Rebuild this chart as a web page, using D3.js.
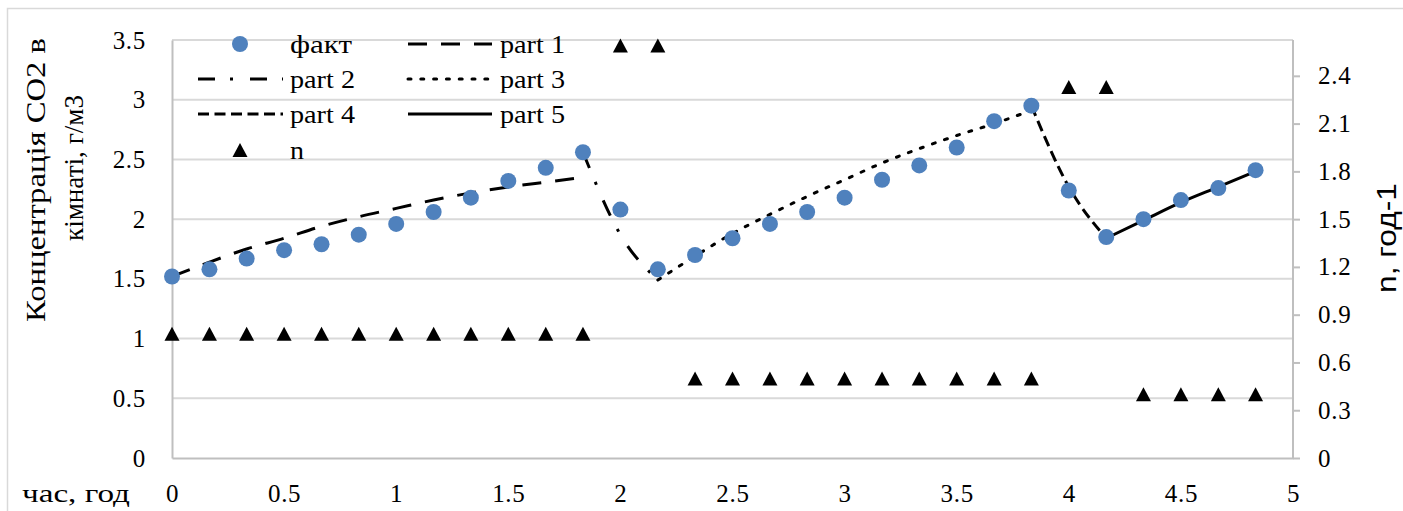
<!DOCTYPE html>
<html>
<head>
<meta charset="utf-8">
<script src="https://cdn.jsdelivr.net/npm/d3@7"></script>
</head>
<body style="margin:0">
<svg id="chart" width="1403" height="511"></svg>
<script>
// Measurement times, hours (10-minute steps)
const hours = [0, 0.167, 0.333, 0.5, 0.667, 0.833, 1, 1.167, 1.333, 1.5, 1.667, 1.833,
               2, 2.167, 2.333, 2.5, 2.667, 2.833, 3, 3.167, 3.333, 3.5, 3.667, 3.833,
               4, 4.167, 4.333, 4.5, 4.667, 4.833];
// Measured CO2 concentration, g/m3
const fact = [1.52, 1.58, 1.67, 1.74, 1.79, 1.87, 1.96, 2.06, 2.18, 2.32, 2.43, 2.56,
              2.08, 1.58, 1.70, 1.84, 1.96, 2.06, 2.18, 2.33, 2.45, 2.60, 2.82, 2.95,
              2.24, 1.85, 2.00, 2.16, 2.26, 2.41];
// Air exchange rate n, 1/h
const nRate = [0.78, 0.78, 0.78, 0.78, 0.78, 0.78, 0.78, 0.78, 0.78, 0.78, 0.78, 0.78,
               2.59, 2.59, 0.5, 0.5, 0.5, 0.5, 0.5, 0.5, 0.5, 0.5, 0.5, 0.5,
               2.33, 2.33, 0.4, 0.4, 0.4, 0.4];

// Model curves, one per ventilation regime
const part1Hours = [0, 0.167, 0.333, 0.5, 0.667, 0.833, 1, 1.167, 1.333, 1.5, 1.667, 1.833];
const part1Vals  = [1.52, 1.64, 1.75, 1.84, 1.94, 2.02, 2.09, 2.16, 2.22, 2.27, 2.31, 2.35];
const part2Hours = [1.833, 2, 2.167];
const part2Vals  = [2.56, 1.87, 1.49];
const part3Hours = [2.167, 2.333, 2.5, 2.667, 2.833, 3, 3.167, 3.333, 3.5, 3.667, 3.833];
const part3Vals  = [1.49, 1.69, 1.88, 2.04, 2.19, 2.33, 2.47, 2.59, 2.70, 2.80, 2.91];
const part4Hours = [3.833, 4, 4.167];
const part4Vals  = [2.95, 2.27, 1.84];
const part5Hours = [4.167, 4.333, 4.5, 4.667, 4.833];
const part5Vals  = [1.84, 1.99, 2.14, 2.27, 2.40];

const xTicks = [0, 0.5, 1, 1.5, 2, 2.5, 3, 3.5, 4, 4.5, 5];
const yTicks = [0, 0.5, 1, 1.5, 2, 2.5, 3, 3.5];
const y2Ticks = [0, 0.3, 0.6, 0.9, 1.2, 1.5, 1.8, 2.1, 2.4];

const parts = [
  { name: "part 1", t: part1Hours, v: part1Vals, dash: "19,14" },
  { name: "part 2", t: part2Hours, v: part2Vals, dash: "17,15,3,17" },
  { name: "part 3", t: part3Hours, v: part3Vals, dash: "3,9.8" },
  { name: "part 4", t: part4Hours, v: part4Vals, dash: "11,5.5" },
  { name: "part 5", t: part5Hours, v: part5Vals, dash: null }
];

const SERIF = "Liberation Serif";
const SANS = "Liberation Sans";
const FS = 25;
const BLUE = "#4f81bd";

const svg = d3.select("#chart");
svg.append("rect").attr("width", 1403).attr("height", 511).attr("fill", "#fff");
// chart frame
svg.append("path").attr("d", "M7.5,511 V8.5 H1403")
  .attr("fill", "none").attr("stroke", "#d9d9d9").attr("stroke-width", 1.5);

const plot = { left: 172, right: 1293, top: 40, bottom: 458 };
const x = d3.scaleLinear().domain([0, 5]).range([plot.left, plot.right]);
const y = d3.scaleLinear().domain([0, 3.5]).range([plot.bottom, plot.top]);
const y2 = d3.scaleLinear().domain([0, 2.625]).range([plot.bottom, plot.top]);

// horizontal gridlines
svg.append("g").selectAll("line").data(yTicks.filter(d => d > 0)).join("line")
  .attr("x1", plot.left).attr("x2", plot.right)
  .attr("y1", d => y(d)).attr("y2", d => y(d))
  .attr("stroke", "#d9d9d9").attr("stroke-width", 2);

function styleAxis(g) {
  g.attr("font-family", SERIF).attr("font-size", FS);
  g.selectAll("text").attr("fill", "#000").attr("letter-spacing", 0.7);
}

// left axis
const gL = svg.append("g").attr("transform", `translate(${plot.left},0)`)
  .call(d3.axisLeft(y).tickValues(yTicks).tickFormat(d3.format("")).tickSize(0).tickPadding(26));
styleAxis(gL);
gL.select(".domain").attr("stroke", "#bfbfbf").attr("stroke-width", 2);

// bottom axis
const gB = svg.append("g").attr("transform", `translate(0,${plot.bottom})`)
  .call(d3.axisBottom(x).tickValues(xTicks).tickFormat(d3.format("")).tickSize(0));
styleAxis(gB);
gB.select(".domain").attr("stroke", "#bfbfbf").attr("stroke-width", 2);
gB.selectAll("text").attr("y", 35).attr("dy", "0.35em");

// right axis
const gR = svg.append("g").attr("transform", `translate(${plot.right},0)`)
  .call(d3.axisRight(y2).tickValues(y2Ticks).tickFormat(d3.format("")).tickSize(7).tickPadding(18));
styleAxis(gR);
gR.select(".domain").attr("stroke", "#bfbfbf").attr("stroke-width", 2).attr("d", `M0,${plot.top}V${plot.bottom}`);
gR.selectAll(".tick line").attr("stroke", "#bfbfbf").attr("stroke-width", 2);

// text helper; `len` fixes the rendered run length
function label(txt, tx, ty, opts = {}) {
  const rot = opts.rotate ? " rotate(-90)" : "";
  const t = svg.append("text")
    .attr("transform", `translate(${tx},${ty})${rot}`)
    .attr("text-anchor", opts.anchor || "start")
    .attr("dy", "0.35em")
    .attr("fill", "#000")
    .attr("font-family", opts.family || SERIF)
    .attr("font-size", opts.size || FS)
    .text(txt);
  if (opts.len) t.attr("textLength", opts.len).attr("lengthAdjust", "spacingAndGlyphs");
  return t;
}

// axis titles
label("Концентрація СО2 в", 36, 180, { rotate: true, anchor: "middle", size: 27, len: 284 });
label("кімнаті, г/м3", 74, 168, { rotate: true, anchor: "middle", size: 27, len: 146 });
label("час, год", 22, 493, { len: 108 });
label("n, год-1", 1386, 238, { rotate: true, anchor: "middle", family: SANS, size: 28, len: 110 });

// model curves
const line = d3.line().x(d => x(d[0])).y(d => y(d[1])).curve(d3.curveMonotoneX);
svg.append("g").selectAll("path").data(parts).join("path")
  .attr("d", p => line(p.t.map((t, i) => [t, p.v[i]])))
  .attr("fill", "none").attr("stroke", "#000").attr("stroke-width", 3)
  .attr("stroke-dasharray", p => p.dash)
  .attr("stroke-linecap", p => p.name === "part 3" ? "round" : "butt");

// measured points
svg.append("g").selectAll("circle").data(hours).join("circle")
  .attr("cx", d => x(d)).attr("cy", (d, i) => y(fact[i])).attr("r", 8)
  .attr("fill", BLUE);

// air exchange rate markers (right axis)
const tri = "M0,-7 L7.5,7 L-7.5,7 Z";
svg.append("g").selectAll("path").data(hours).join("path")
  .attr("transform", (d, i) => `translate(${x(d)},${y2(nRate[i])})`)
  .attr("d", tri).attr("fill", "#000");

// legend
const lg = svg.append("g");
const rows = [44, 79, 114, 150];
const colText = [290, 500];
const colLine = [[198, 283], [408, 492]];
lg.append("circle").attr("cx", 240).attr("cy", rows[0]).attr("r", 8).attr("fill", BLUE);
lg.append("path").attr("d", tri).attr("transform", `translate(240,${rows[3]})`).attr("fill", "#000");
const legendItems = [
  { label: "факт", col: 0, row: 0, len: 62 },
  { label: "part 1", col: 1, row: 0, part: parts[0], len: 65 },
  { label: "part 2", col: 0, row: 1, part: parts[1], len: 65 },
  { label: "part 3", col: 1, row: 1, part: parts[2], len: 65 },
  { label: "part 4", col: 0, row: 2, part: parts[3], len: 65 },
  { label: "part 5", col: 1, row: 2, part: parts[4], len: 65 },
  { label: "n", col: 0, row: 3, len: 14 }
];
legendItems.forEach(it => {
  const yy = rows[it.row];
  if (it.part) {
    lg.append("line").attr("x1", colLine[it.col][0]).attr("x2", colLine[it.col][1])
      .attr("y1", yy).attr("y2", yy)
      .attr("stroke", "#000").attr("stroke-width", 3)
      .attr("stroke-dasharray", it.part.dash)
      .attr("stroke-linecap", it.part.name === "part 3" ? "round" : "butt");
  }
  label(it.label, colText[it.col], yy, { len: it.len });
});
</script>
</body>
</html>
